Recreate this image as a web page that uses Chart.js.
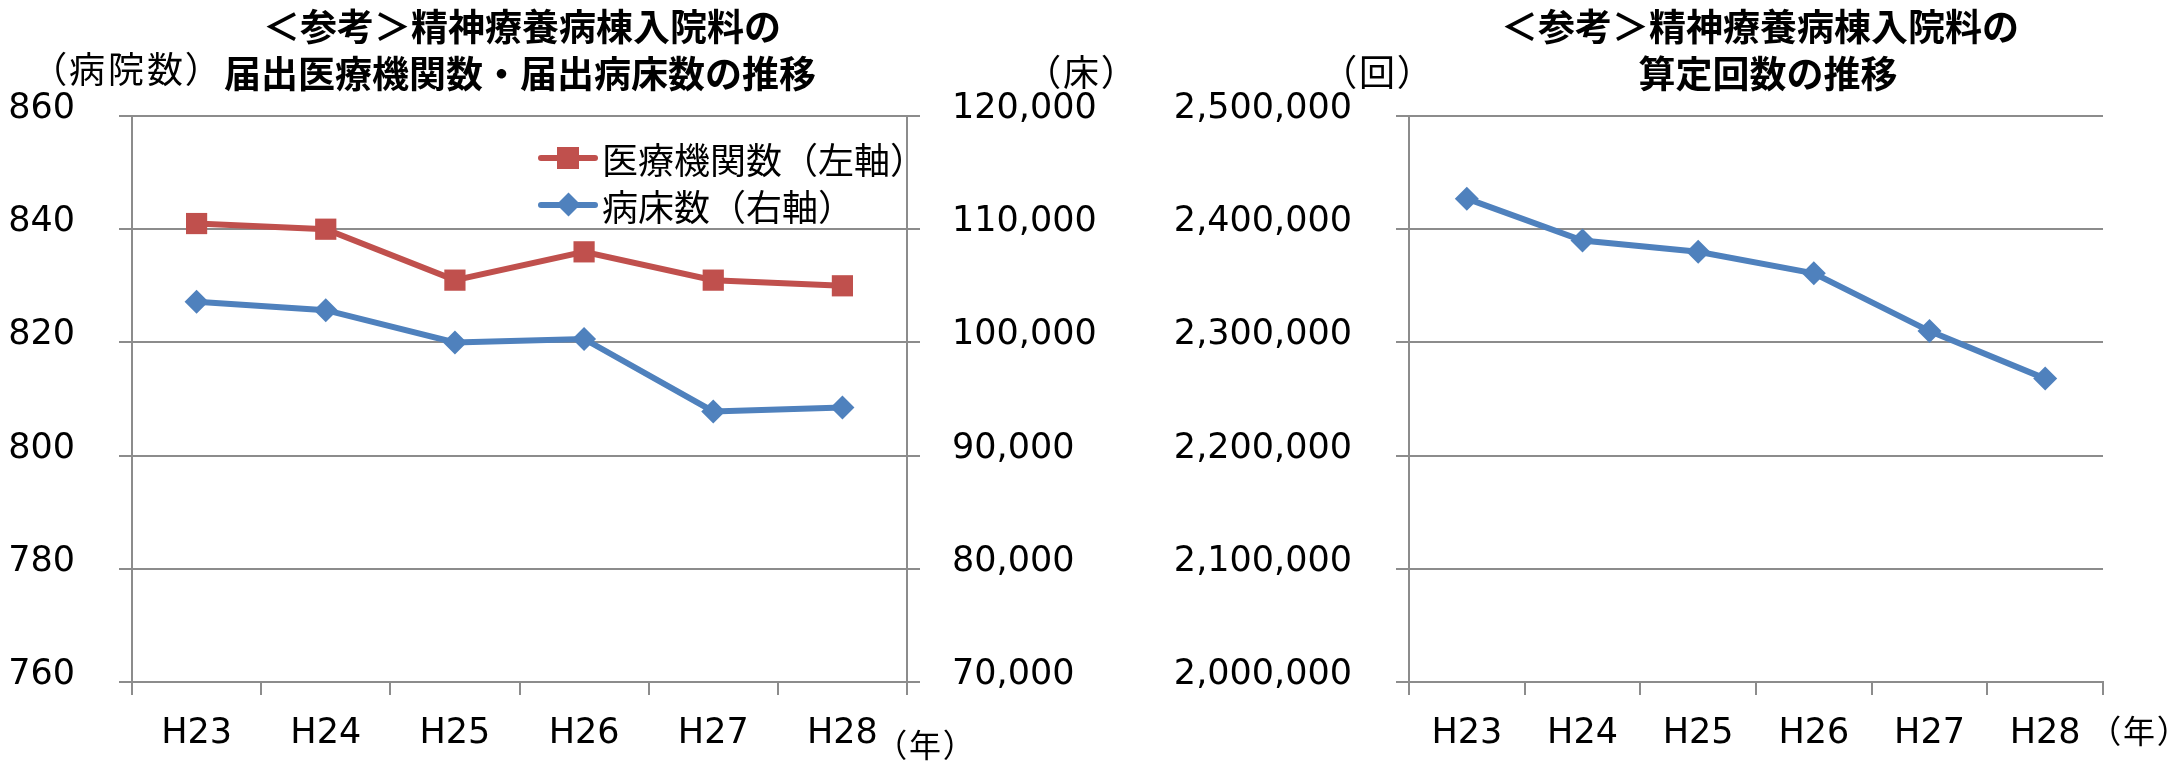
<!DOCTYPE html>
<html lang="ja">
<head>
<meta charset="utf-8">
<script src="https://cdn.jsdelivr.net/npm/chart.js@4.4.1/dist/chart.umd.min.js"></script>
<style>
  body {
    margin: 0;
    width: 2183px;
    height: 762px;
    position: relative;
    overflow: hidden;
    background: #ffffff;
    color: #000000;
    font-family: "Noto Sans CJK JP", sans-serif;
  }
  canvas {
    position: absolute;
    top: 0;
  }
  #leftChart { left: 0; }
  #rightChart { left: 1120px; }
  .title {
    position: absolute;
    font-size: 37px;
    font-weight: bold;
    line-height: 47px;
    white-space: nowrap;
    transform: translateX(-50%);
  }
  .unit {
    position: absolute;
    font-size: 36px;
    line-height: 47px;
    white-space: nowrap;
    font-feature-settings: "palt";
    letter-spacing: 3px;
  }
  #legend {
    position: absolute;
    left: 538px;
    top: 134px;
  }
  .legend-row {
    display: flex;
    align-items: center;
    height: 47px;
  }
  .legend-mark {
    position: relative;
    width: 60px;
    height: 6px;
    border-radius: 3px;
    margin-right: 4px;
  }
  .legend-mark span {
    position: absolute;
    left: 50%;
    top: 50%;
  }
  .legend-text {
    font-size: 36px;
    white-space: nowrap;
  }
</style>
</head>
<body>
<canvas id="leftChart" width="1120" height="762"></canvas>
<canvas id="rightChart" width="1063" height="762"></canvas>

<div class="title" style="left:522px; top:2px;">＜参考＞精神療養病棟入院料の</div>
<div class="title" style="left:520px; top:49px;">届出医療機関数・届出病床数の推移</div>
<div class="title" style="left:1760px; top:2px;">＜参考＞精神療養病棟入院料の</div>
<div class="title" style="left:1768px; top:49px;">算定回数の推移</div>

<div class="unit" style="left:48px; top:44px;">（病院数）</div>
<div class="unit" style="left:1042px; top:47px;">（床）</div>
<div class="unit" style="left:1338px; top:47px;">（回）</div>
<div class="unit" style="left:890px; top:720px; font-size:32px;">（年）</div>
<div class="unit" style="left:2104px; top:706px; font-size:32px;">（年）</div>

<div id="legend"></div>

<script>
  const years = ["H23", "H24", "H25", "H26", "H27", "H28"];
  const hospitalCounts = [841, 840, 831, 836, 831, 830];
  const bedCounts = [103600, 102850, 100000, 100300, 93900, 94250];
  const calcCounts = [2427000, 2390000, 2380000, 2361000, 2310000, 2268000];

  const hospitalRange = [760, 860, 20];
  const bedRange = [70000, 120000, 10000];
  const calcRange = [2000000, 2500000, 100000];

  const RED = "#C0504D";
  const BLUE = "#4F81BD";
  const GRID = "#8C8C8C";

  const tickFont = { family: "'DejaVu Sans', sans-serif", size: 35 };

  function fixedWidth(width) {
    return function (scale) {
      scale.width = width;
    };
  }

  function valueAxis(range, position, width, padding, onChart) {
    return {
      type: "linear",
      position: position,
      min: range[0],
      max: range[1],
      afterFit: fixedWidth(width),
      grid: {
        color: GRID,
        lineWidth: 2,
        tickLength: 13,
        drawOnChartArea: onChart,
      },
      border: {
        display: true,
        color: GRID,
        width: 2,
      },
      ticks: {
        stepSize: range[2],
        color: "#000000",
        font: tickFont,
        padding: padding,
        labelOffset: -7,
        callback: function (value) {
          return value.toLocaleString("en-US");
        },
      },
    };
  }

  function categoryAxis() {
    return {
      type: "category",
      offset: true,
      afterFit: function (scale) {
        scale.height = 80;
      },
      grid: {
        offset: true,
        color: GRID,
        lineWidth: 2,
        tickLength: 13,
        drawOnChartArea: false,
      },
      border: {
        display: true,
        color: GRID,
        width: 2,
      },
      ticks: {
        color: "#000000",
        font: tickFont,
        padding: 18,
        maxRotation: 0,
      },
    };
  }

  function lineSet(label, values, color, style, radius, axisId) {
    return {
      label: label,
      data: values,
      yAxisID: axisId,
      borderColor: color,
      backgroundColor: color,
      borderWidth: 6,
      pointStyle: style,
      pointRadius: radius,
      pointBorderWidth: 0,
      pointBackgroundColor: color,
      tension: 0,
    };
  }

  const commonOptions = {
    responsive: false,
    animation: false,
    events: [],
    plugins: {
      legend: { display: false },
      tooltip: { enabled: false },
    },
  };

  const leftData = {
    labels: years,
    datasets: [
      lineSet("医療機関数（左軸）", hospitalCounts, RED, "rect", 15, "y"),
      lineSet("病床数（右軸）", bedCounts, BLUE, "rectRot", 12, "y2"),
    ],
  };

  const leftChart = new Chart(document.getElementById("leftChart"), {
    type: "line",
    data: leftData,
    options: Object.assign({}, commonOptions, {
      layout: { padding: { top: 116, left: 0, right: 0, bottom: 0 } },
      scales: {
        x: categoryAxis(),
        y: valueAxis(hospitalRange, "left", 132, 44, true),
        y2: valueAxis(bedRange, "right", 213, 32, false),
      },
    }),
  });

  const rightChart = new Chart(document.getElementById("rightChart"), {
    type: "line",
    data: {
      labels: years,
      datasets: [lineSet("算定回数", calcCounts, BLUE, "rectRot", 12, "y")],
    },
    options: Object.assign({}, commonOptions, {
      layout: { padding: { top: 116, left: 0, right: 80, bottom: 0 } },
      scales: {
        x: categoryAxis(),
        y: valueAxis(calcRange, "left", 289, 44, true),
      },
    }),
  });

  // legend for the left chart, drawn as html
  function createLegend() {
    const box = document.getElementById("legend");
    leftData.datasets.forEach(function (dataset) {
      const row = document.createElement("div");
      row.className = "legend-row";
      const mark = document.createElement("div");
      mark.className = "legend-mark";
      mark.style.backgroundColor = dataset.borderColor;
      const dot = document.createElement("span");
      if (dataset.pointStyle === "rect") {
        dot.style.cssText = "width:22px;height:22px;margin:-11px 0 0 -11px;background:" + dataset.borderColor;
      } else {
        dot.style.cssText = "width:17px;height:17px;margin:-8.5px 0 0 -8.5px;transform:rotate(45deg);background:" + dataset.borderColor;
      }
      mark.appendChild(dot);
      const text = document.createElement("span");
      text.className = "legend-text";
      text.textContent = dataset.label;
      row.appendChild(mark);
      row.appendChild(text);
      box.appendChild(row);
    });
  }

  createLegend();
</script>
</body>
</html>
